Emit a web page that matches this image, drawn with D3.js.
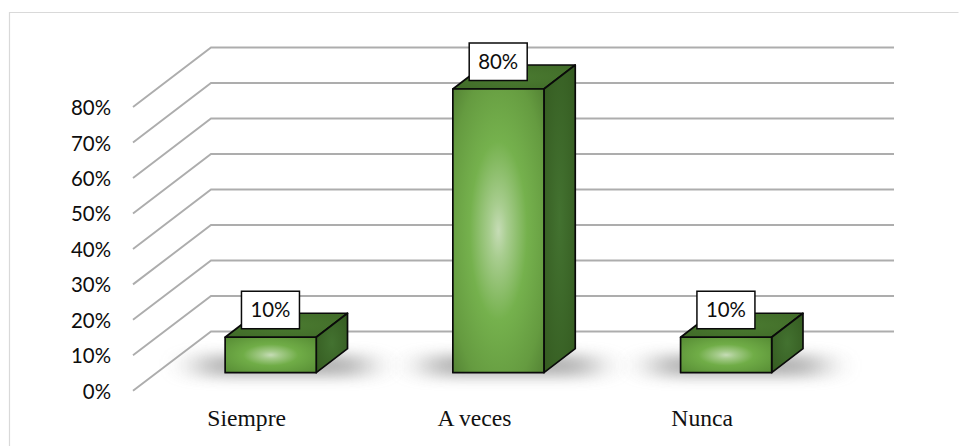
<!DOCTYPE html>
<html><head><meta charset="utf-8">
<script src="https://cdn.jsdelivr.net/npm/d3@7"></script>
<style>html,body{margin:0;padding:0;background:#fff;overflow:hidden}svg{display:block}</style>
</head><body><div id="c"></div>
<script>
const categories = ["Siempre", "A veces", "Nunca"];
const values = [10, 80, 10];
const valueLabels = ["10%", "80%", "10%"];
const tickValues = [0, 10, 20, 30, 40, 50, 60, 70, 80];

const W = 959, H = 446;
const svg = d3.select("#c").append("svg").attr("width", W).attr("height", H);
const defs = svg.append("defs");

const depth = {x: 78, y: -59.3};
const barDepth = {x: 31.3, y: -24};

const x = d3.scaleBand().domain(categories).range([156.8, 840]).paddingInner(0.6).paddingOuter(0.3);
const yBar = d3.scaleLinear().domain([0, 80]).range([372.7, 89]);
const yWall = d3.scaleLinear().domain([0, 80]).range([331.5, 47.5]);
const yFloor = d3.scaleLinear().domain([0, 80]).range([390.8, 107]);
const wallLeft = 211, wallRight = 894, floorLeft = wallLeft - depth.x;

// frame
svg.append("path").attr("d", `M9.5 ${H}V12.5H${W - 0.5}`).attr("fill", "none").attr("stroke", "#d9d9d9").attr("stroke-width", 1.2);

defs.append("filter").attr("id", "soft").attr("x", "-5%").attr("y", "-50%").attr("width", "110%").attr("height", "200%")
  .append("feGaussianBlur").attr("stdDeviation", 0.5);
defs.append("filter").attr("id", "blur").attr("x", "-60%").attr("y", "-200%").attr("width", "220%").attr("height", "500%")
  .append("feGaussianBlur").attr("stdDeviation", "18 6.5");

// gridlines
svg.append("g").attr("fill", "none").attr("stroke", "#adadad").attr("stroke-width", 1.9).attr("filter", "url(#soft)")
  .selectAll("path").data(tickValues).join("path")
  .attr("d", d => `M${floorLeft} ${yFloor(d)}L${wallLeft} ${yWall(d)}H${wallRight}`);

// y axis labels
const axis = d3.axisLeft(yFloor).tickValues(tickValues).tickSize(0).tickPadding(0).tickFormat(d => d + "%");
const gAxis = svg.append("g").attr("transform", "translate(111,0)").call(axis);
gAxis.select(".domain").remove();
gAxis.selectAll("text").attr("font-family", "Lato").attr("font-size", 20.4).attr("fill", "#0d0d0d").attr("dy", "0.37em");

// floor shadows
svg.append("g").selectAll("rect").data(categories).join("rect")
  .attr("x", d => x(d) - 26)
  .attr("y", yBar(0) - 18)
  .attr("width", x.bandwidth() + 76)
  .attr("height", 22)
  .attr("fill", "#7d7d7d")
  .attr("opacity", 0.58)
  .attr("filter", "url(#blur)");

// gradients
function radial(id, stops, r) {
  const g = defs.append("radialGradient").attr("id", id).attr("cx", "50%").attr("cy", "50%").attr("r", r);
  stops.forEach(s => g.append("stop").attr("offset", s[0]).attr("stop-color", s[1]));
}
radial("frontShort", [[0, "#c6dcb6"], [0.14, "#a5cb8b"], [0.42, "#70ad47"], [1, "#558a33"]], "72%");
radial("frontTall", [[0, "#c6dcb6"], [0.13, "#a8cd8f"], [0.42, "#75b14d"], [0.75, "#659b40"], [1, "#4f7c31"]], "75%");
radial("sideG", [[0, "#437230"], [1, "#345a20"]], "72%");
radial("topG", [[0, "#4a7a30"], [1, "#406a28"]], "72%");

// bars
const bars = svg.append("g").attr("stroke", "#0a0a0a").attr("stroke-width", 1.7).attr("stroke-linejoin", "round")
  .selectAll("g").data(categories).join("g");
bars.append("path").attr("fill", "url(#topG)").attr("d", (d, i) => {
  const l = x(d), r = l + x.bandwidth(), t = yBar(values[i]);
  return `M${l} ${t}L${l + barDepth.x} ${t + barDepth.y}H${r + barDepth.x}L${r} ${t}Z`;
});
bars.append("path").attr("fill", "url(#sideG)").attr("d", (d, i) => {
  const r = x(d) + x.bandwidth(), t = yBar(values[i]), b = yBar(0);
  return `M${r} ${t}L${r + barDepth.x} ${t + barDepth.y}V${b + barDepth.y}L${r} ${b}Z`;
});
bars.append("rect")
  .attr("x", d => x(d)).attr("width", x.bandwidth())
  .attr("y", (d, i) => yBar(values[i]))
  .attr("height", (d, i) => yBar(0) - yBar(values[i]))
  .attr("fill", (d, i) => values[i] > 40 ? "url(#frontTall)" : "url(#frontShort)");

// value labels
const lab = svg.append("g").selectAll("g").data(categories).join("g")
  .attr("transform", (d, i) => `translate(${x(d) + x.bandwidth() / 2 - 0.2},${yBar(values[i]) - 27.5})`);
lab.append("rect").attr("x", -29).attr("y", -18.5).attr("width", 58).attr("height", 37.5)
  .attr("fill", "#fff").attr("stroke", "#0a0a0a").attr("stroke-width", 1.5);
lab.append("text").attr("text-anchor", "middle").attr("dy", "0.37em")
  .attr("font-family", "Lato").attr("font-size", 20.4).attr("fill", "#0d0d0d")
  .text((d, i) => valueLabels[i]);

// category labels
svg.append("g").selectAll("text").data(categories).join("text")
  .attr("x", d => x(d) + x.bandwidth() / 2 - 24)
  .attr("y", 425.5)
  .attr("text-anchor", "middle")
  .attr("font-family", "Liberation Serif").attr("font-size", 23.6).attr("fill", "#111")
  .text(d => d);
</script></body></html>
